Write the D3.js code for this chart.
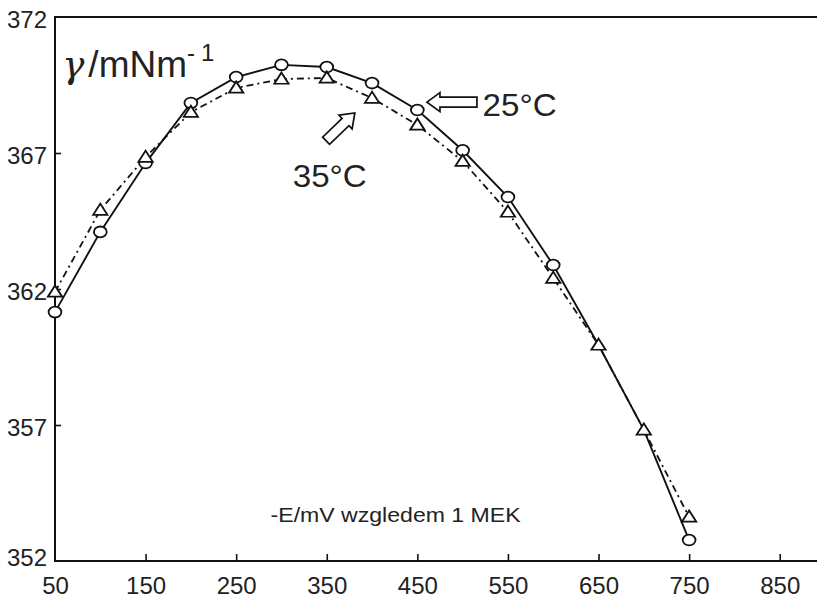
<!DOCTYPE html>
<html lang="pl">
<head>
<meta charset="UTF-8">
<title>gamma vs -E</title>
<script src="https://d3js.org/d3.v7.min.js"></script>
<style>
    body { margin: 0; background: #fff; }
    svg { display: block; }
    .tick text { font-family: "Liberation Sans Narrow", "Liberation Sans", Arial, sans-serif; font-size: 24px; fill: #222; }
    .lbl { font-family: "Liberation Sans", Arial, sans-serif; fill: #222; }
</style>
</head>
<body>
<svg width="817" height="600"></svg>
<script>
// -E / mV against 1 MEK
const potentials = [50, 100, 150, 200, 250, 300, 350, 400, 450, 500, 550, 600, 650, 700, 750];
// gamma / mN m^-1
const gamma25 = [361.15, 364.1, 366.63, 368.84, 369.79, 370.24, 370.16, 369.57, 368.58, 367.1, 365.38, 362.88, 359.94, 356.82, 352.77];
const gamma35 = [361.89, 364.9, 366.85, 368.5, 369.39, 369.72, 369.76, 369.02, 368.03, 366.7, 364.83, 362.4, 359.94, 356.82, 353.62];

const xTicks = [50, 150, 250, 350, 450, 550, 650, 750, 850];
const yTicks = [352, 357, 362, 367, 372];

const svg = d3.select("svg");

const x = d3.scaleLinear().domain([50, 900]).range([55, 825]);
const y = d3.scaleLinear().domain([352, 372]).range([561, 17]);

const ink = "#111";

// frame (right edge runs off the page)
svg.append("rect")
    .attr("x", x(50)).attr("y", y(372))
    .attr("width", x(900) - x(50)).attr("height", y(352) - y(372))
    .attr("fill", "none").attr("stroke", ink).attr("stroke-width", 2);

// axes with inward ticks
const yAxis = svg.append("g")
    .attr("transform", `translate(${x(50)},0)`)
    .call(d3.axisLeft(y).tickValues(yTicks).tickSize(-6).tickPadding(9).tickFormat(d3.format("d")));
const xAxis = svg.append("g")
    .attr("transform", `translate(0,${y(352)})`)
    .call(d3.axisBottom(x).tickValues(xTicks).tickSize(-7).tickPadding(9).tickFormat(d3.format("d")));

[yAxis, xAxis].forEach(a => {
    a.select(".domain").remove();
    a.selectAll(".tick line").attr("stroke", ink).attr("stroke-width", 1.6);
});
// no tick marks at the corners
yAxis.selectAll(".tick").filter(d => d === 352 || d === 372).select("line").remove();
xAxis.selectAll(".tick").filter(d => d === 50).select("line").remove();
yAxis.selectAll(".tick text").attr("dy", "0.45em").attr("x", -8);
yAxis.selectAll(".tick").filter(d => d === 352).select("text").attr("dy", "0.2em");
xAxis.selectAll(".tick text").attr("dy", "1.0em");

const pts25 = potentials.map((p, i) => ({ p, g: gamma25[i] }));
const pts35 = potentials.map((p, i) => ({ p, g: gamma35[i] }));

const line = d3.line().x(d => x(d.p)).y(d => y(d.g));

svg.append("path").datum(pts35)
    .attr("d", line).attr("fill", "none")
    .attr("stroke", ink).attr("stroke-width", 1.8)
    .attr("stroke-dasharray", "7,4,2,4");

svg.append("path").datum(pts25)
    .attr("d", line).attr("fill", "none")
    .attr("stroke", ink).attr("stroke-width", 1.9);

// circles where they are not hidden under a triangle
svg.append("g").selectAll("ellipse")
    .data(pts25.filter((d, i) => Math.abs(d.g - gamma35[i]) > 0.05))
    .join("ellipse")
    .attr("cx", d => x(d.p)).attr("cy", d => y(d.g))
    .attr("rx", 6.4).attr("ry", 5.4)
    .attr("fill", "#fff").attr("stroke", ink).attr("stroke-width", 1.8);

const tri = d3.symbol().type(d3.symbolTriangle).size(80);
svg.append("g").selectAll("path")
    .data(pts35)
    .join("path")
    .attr("d", tri)
    .attr("transform", d => `translate(${x(d.p)},${y(d.g) + 1}) scale(1.05,0.95)`)
    .attr("fill", "#fff").attr("stroke", ink).attr("stroke-width", 1.8).attr("stroke-linejoin", "miter");

// y-axis quantity label
const q = svg.append("text").attr("class", "lbl")
    .attr("x", x(58)).attr("y", y(369.8)).attr("font-size", 37);
q.append("tspan").attr("font-family", "DejaVu Serif, serif").attr("font-style", "italic").text("γ");
q.append("tspan").attr("dx", 4).text("/mNm");
q.append("tspan").attr("dy", -16).attr("font-size", 24).text("-");
q.append("tspan").attr("dx", 6).attr("font-size", 24).text("1");

// x-axis quantity label
svg.append("text").attr("class", "lbl")
    .attr("x", x(288)).attr("y", y(353.45))
    .attr("font-size", 21).attr("textLength", 250).attr("lengthAdjust", "spacingAndGlyphs")
    .text("-E/mV wzgledem 1 MEK");

// hollow arrows and temperature labels
const arrowShape = len => `M0,0 L13,-9.5 L13,-5 L${len},-5 L${len},5 L13,5 L13,9.5 Z`;
const notes = [
    { tipP: 460.6, tipG: 368.87, angle: 0, len: 50, text: "25°C", tp: 522, tg: 368.35 },
    { tipP: 381, tipG: 368.47, angle: 136, len: 40, text: "35°C", tp: 312.5, tg: 365.75 }
];
notes.forEach(n => {
    svg.append("path")
        .attr("d", arrowShape(n.len))
        .attr("transform", `translate(${x(n.tipP)},${y(n.tipG)}) rotate(${n.angle})`)
        .attr("fill", "#fff").attr("stroke", ink).attr("stroke-width", 1.7).attr("stroke-linejoin", "miter");
    svg.append("text").attr("class", "lbl")
        .attr("x", x(n.tp)).attr("y", y(n.tg))
        .attr("font-size", 31).attr("textLength", 74).attr("lengthAdjust", "spacingAndGlyphs")
        .text(n.text);
});
</script>
</body>
</html>
